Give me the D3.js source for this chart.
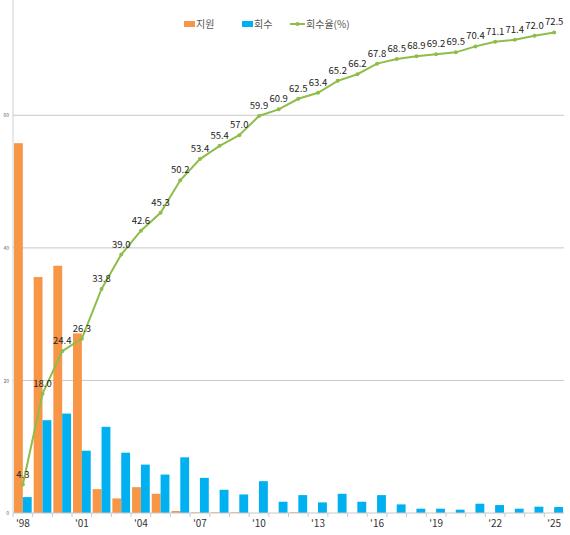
<!DOCTYPE html>
<html>
<head>
<meta charset="utf-8">
<script src="https://cdn.jsdelivr.net/npm/d3@7"></script>
<style>
  body { margin: 0; background: #fff; }
  text { font-family: "Noto Sans CJK KR", "Noto Sans", sans-serif; }
</style>
</head>
<body>
<div id="chart"></div>
<script>
const years = ["98","99","00","01","02","03","04","05","06","07","08","09","10","11",
               "12","13","14","15","16","17","18","19","20","21","22","23","24","25"];
const support = [55.8, 35.6, 37.3, 27.1, 3.6, 2.2, 3.9, 2.9, 0.3, 0.1, 0.1, 0.1, 0, 0,
                 0.1, 0, 0, 0, 0, 0, 0, 0, 0, 0, 0, 0, 0, 0];
const recovery = [2.4, 14.0, 15.0, 9.4, 13.0, 9.1, 7.3, 5.8, 8.4, 5.3, 3.5, 2.8, 4.8, 1.7,
                  2.7, 1.6, 2.9, 1.7, 2.7, 1.3, 0.65, 0.65, 0.5, 1.4, 1.2, 0.65, 0.95, 0.9];
const rate = [4.3, 18.0, 24.4, 26.3, 33.8, 39.0, 42.6, 45.3, 50.2, 53.4, 55.4, 57.0, 59.9, 60.9,
              62.5, 63.4, 65.2, 66.2, 67.8, 68.5, 68.9, 69.2, 69.5, 70.4, 71.1, 71.4, 72.0, 72.5];
const yTicks = [0, 20, 40, 60];
const xLabelYears = ["98","01","04","07","10","13","16","19","22","25"];

const width = 570, height = 535;
const plotLeft = 13, plotRight = 564, plotTop = 0, plotBottom = 513;

let svg = d3.select("#chart")
    .append("svg")
    .attr("width", width)
    .attr("height", height);

let x = d3.scaleBand()
    .domain(years)
    .range([plotLeft, plotRight])
    .paddingInner(0.1)
    .paddingOuter(0.05);
let x2 = d3.scaleBand()
    .domain(["s", "r"])
    .range([0, x.bandwidth()]);
let y = d3.scaleLinear()
    .domain([0, 77.4])
    .range([plotBottom, plotTop]);

// gridlines
svg.append("g")
    .selectAll("line")
    .data(yTicks.filter(d => d > 0))
    .enter()
    .append("line")
    .attr("x1", plotLeft)
    .attr("x2", plotRight)
    .attr("y1", d => y(d))
    .attr("y2", d => y(d))
    .attr("stroke", "#c8c8c8")
    .attr("stroke-width", 1);

// y axis
let yAxis = svg.append("g")
    .attr("transform", `translate(${plotLeft},0)`)
    .call(d3.axisLeft(y).tickValues(yTicks).tickSize(0).tickPadding(4));
yAxis.select(".domain").attr("stroke", "#d0d0d0").attr("d", `M0,${plotTop}V${plotBottom}`);
yAxis.selectAll("text").style("font-size", "5px").attr("fill", "#666");

// bars
svg.append("g")
    .selectAll("rect")
    .data(years)
    .enter()
    .append("rect")
    .attr("fill", "#F79646")
    .attr("x", d => x(d) + x2("s"))
    .attr("y", (d, i) => y(support[i]))
    .attr("width", x2.bandwidth())
    .attr("height", (d, i) => plotBottom - y(support[i]));

svg.append("g")
    .selectAll("rect")
    .data(years)
    .enter()
    .append("rect")
    .attr("fill", "#00B0F0")
    .attr("x", d => x(d) + x2("r"))
    .attr("y", (d, i) => y(recovery[i]))
    .attr("width", x2.bandwidth())
    .attr("height", (d, i) => plotBottom - y(recovery[i]));

// x axis
let xAxis = svg.append("g")
    .attr("transform", `translate(0,${plotBottom})`)
    .call(d3.axisBottom(x).tickSize(0).tickPadding(7)
        .tickValues(xLabelYears).tickFormat(d => "'" + d));
xAxis.select(".domain").attr("stroke", "#c8c8c8").attr("d", `M${plotLeft},0H${plotRight}`);
xAxis.selectAll("text").style("font-size", "10px").attr("fill", "#333");

// small ticks between categories
svg.append("g")
    .selectAll("line")
    .data(years)
    .enter()
    .append("line")
    .attr("x1", d => x(d) - x.step() * x.paddingInner() / 2)
    .attr("x2", d => x(d) - x.step() * x.paddingInner() / 2)
    .attr("y1", plotBottom)
    .attr("y2", plotBottom + 4)
    .attr("stroke", "#c8c8c8");

// line
let cx = d => x(d) + x.bandwidth() / 2;
let line = d3.line()
    .x(d => cx(d))
    .y((d, i) => y(rate[i]));

svg.append("path")
    .datum(years)
    .attr("fill", "none")
    .attr("stroke", "#8FBC4A")
    .attr("stroke-width", 2)
    .attr("d", line);

svg.append("g")
    .selectAll("circle")
    .data(years)
    .enter()
    .append("circle")
    .attr("cx", d => cx(d))
    .attr("cy", (d, i) => y(rate[i]))
    .attr("r", 2)
    .attr("fill", "#8FBC4A");

svg.append("g")
    .selectAll("text")
    .data(years)
    .enter()
    .append("text")
    .attr("x", d => cx(d))
    .attr("y", (d, i) => y(rate[i]) - 7)
    .style("text-anchor", "middle")
    .style("font-size", "9.5px")
    .attr("fill", "#222")
    .text((d, i) => rate[i].toFixed(1));

// legend
let legend = svg.append("g").attr("transform", "translate(0,24)");
legend.append("rect").attr("x", 184).attr("y", -3).attr("width", 11).attr("height", 6).attr("fill", "#F79646");
legend.append("text").attr("x", 196).attr("y", 4).style("font-size", "10px").attr("fill", "#555").text("지원");
legend.append("rect").attr("x", 242).attr("y", -3).attr("width", 11).attr("height", 6).attr("fill", "#00B0F0");
legend.append("text").attr("x", 254).attr("y", 4).style("font-size", "10px").attr("fill", "#555").text("회수");
legend.append("line").attr("x1", 290).attr("x2", 305).attr("y1", 0).attr("y2", 0)
    .attr("stroke", "#8FBC4A").attr("stroke-width", 2);
legend.append("circle").attr("cx", 297.5).attr("cy", 0).attr("r", 2).attr("fill", "#8FBC4A");
legend.append("text").attr("x", 306).attr("y", 4).style("font-size", "10px").attr("fill", "#555").text("회수율(%)");
</script>
</body>
</html>
